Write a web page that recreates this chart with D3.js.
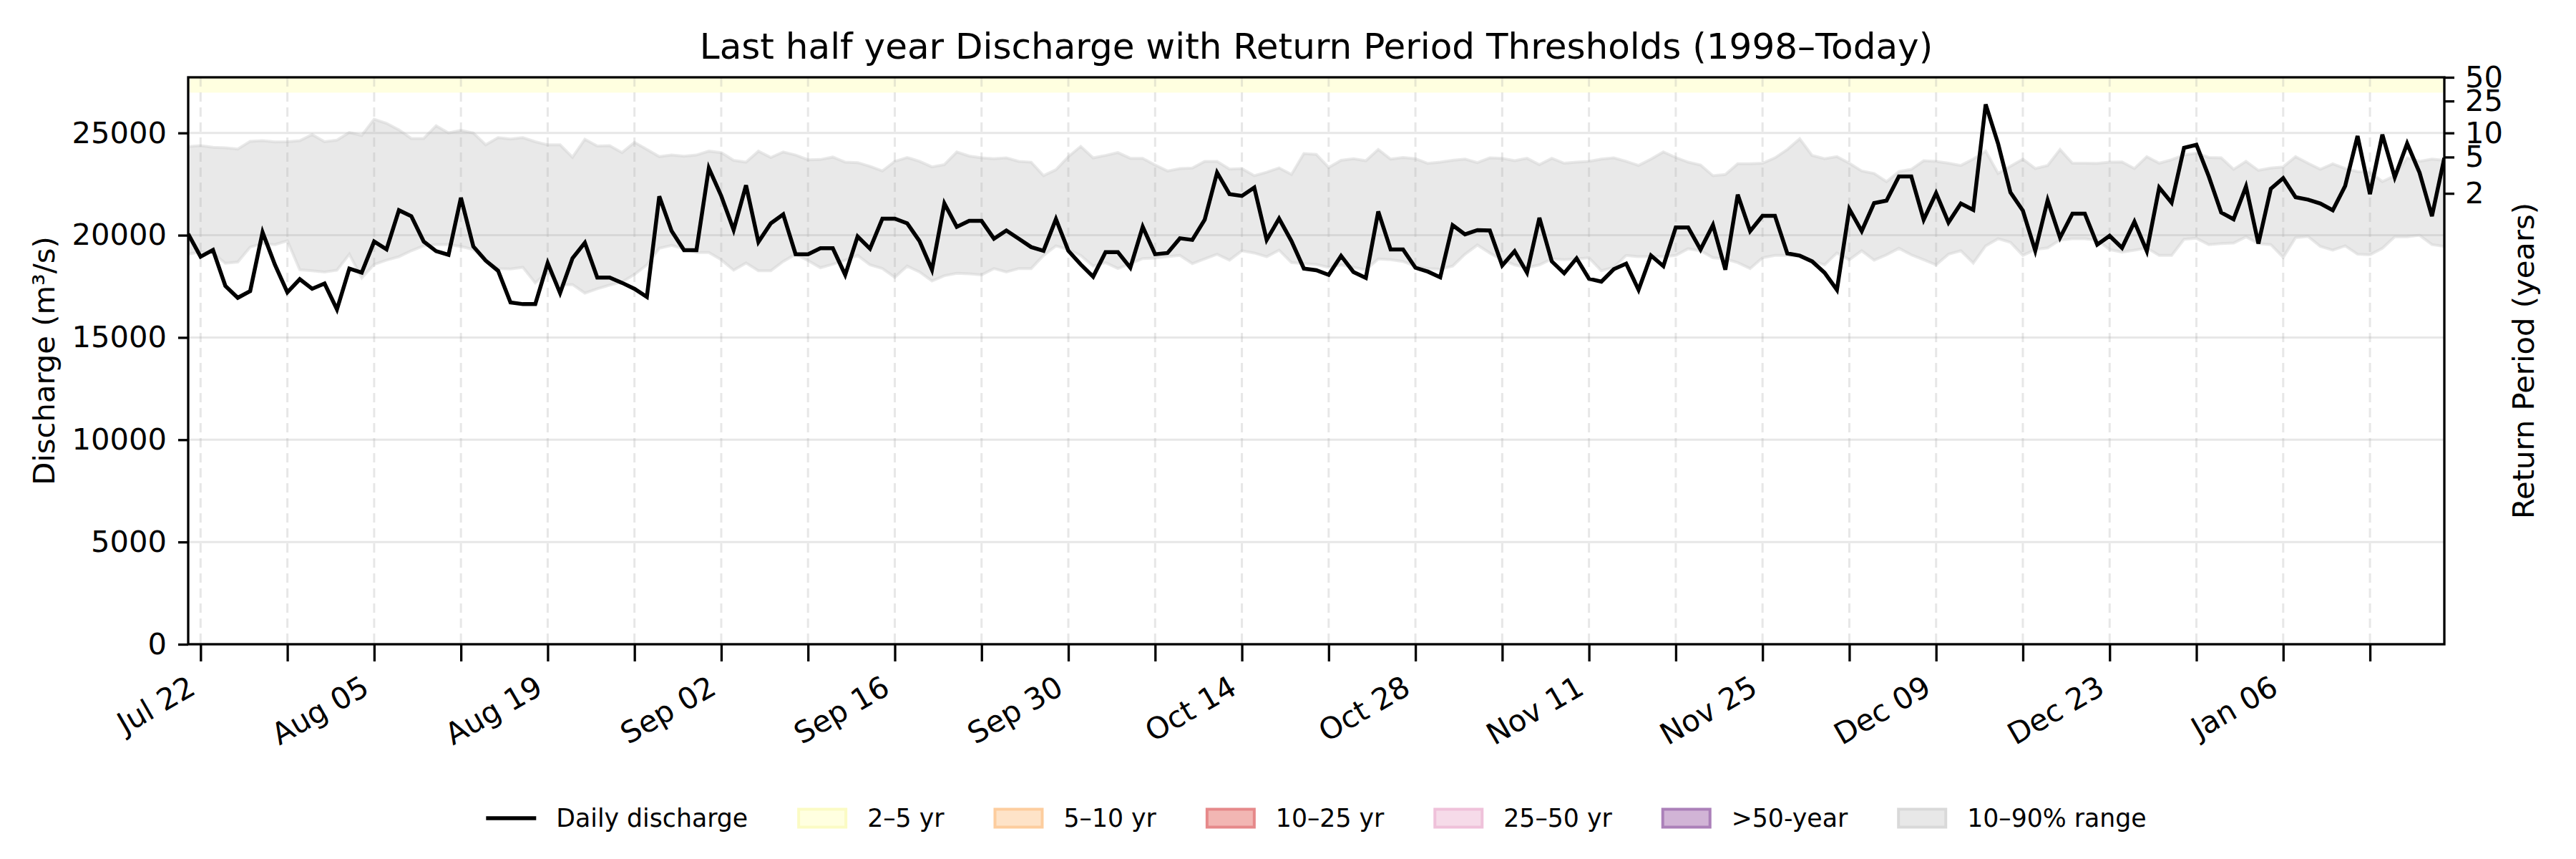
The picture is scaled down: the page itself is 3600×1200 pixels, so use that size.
<!DOCTYPE html>
<html>
<head>
<meta charset="utf-8">
<script src="https://cdn.jsdelivr.net/npm/d3@7"></script>
<style>
  body { margin: 0; background: #ffffff; }
  text { font-family: "DejaVu Sans", sans-serif; fill: #000; }
</style>
</head>
<body>
<div id="discharge_chart"></div>
<script>
// set the size of svg
const width = 3600; const height = 1200;
const margin = {top: 108, right: 184, bottom: 300, left: 263};
const innerWidth = width - margin.left - margin.right;
const innerHeight = height - margin.top - margin.bottom;

// input data, one value per day from Jul 21 2024
const startDate = new Date(Date.UTC(2024, 6, 21));
const dailyDischarge = [
  20060,18950,19280,17520,16940,17270,20140,18550,17210,17850,17380,17640,16370,18370,18170,19690,19310,21220,20930,19690,19220,19040,21830,19450,18760,18260,
  16710,16630,16630,18640,17170,18870,19630,17930,17930,17670,17380,16980,21900,20200,19270,19270,23280,21920,20260,22440,19670,20580,21020,19070,19070,19360,
  19360,18060,19940,19340,20810,20810,20580,19710,18310,21550,20410,20700,20700,19830,20230,19830,19420,19240,20790,19240,18570,17970,19170,19170,18410,20410,
  19070,19130,19850,19770,20760,23060,22010,21920,22330,19770,20810,19710,18370,18290,18060,18990,18200,17910,21160,19300,19300,18410,18220,17940,20490,20040,
  20250,20230,18520,19220,18170,20850,18720,18140,18870,17870,17730,18340,18610,17330,19010,18490,20380,20380,19300,20500,18310,21980,20200,20950,20950,19110,
  19000,18720,18170,17330,21280,20200,21570,21690,22870,22870,20760,22060,20620,21550,21240,26400,24480,22090,21200,19240,21710,19880,21050,21050,19540,19970,
  19380,20660,19220,22330,21590,24270,24420,22870,21110,20780,22380,19590,22270,22790,21860,21740,21550,21220,22410,24850,22010,24920,22830,24480,23060,20930,23780
];
const p90 = [
  24330,24380,24300,24270,24210,24590,24620,24560,24570,24620,24920,24570,24650,25020,24880,25670,25470,25150,24730,24730,25350,25000,25130,25000,24420,24770,
  24700,24770,24570,24420,24420,23810,24690,24360,24380,24040,24540,24190,23840,23920,23860,23920,24110,24040,23660,23570,24110,23800,24070,23920,23690,23700,
  23820,23570,23550,23370,23140,23610,23800,23610,23340,23450,24070,23870,23780,23740,23780,23610,23570,22910,23200,23840,24340,23780,23900,24040,23760,23760,
  23430,23140,23260,23280,23610,23610,23230,23260,22910,23080,23290,22970,23990,23950,23310,23660,23740,23640,24190,23720,23800,23740,23510,23570,23660,23720,
  23550,23780,23760,23640,23760,23450,23760,23520,23570,23610,23720,23780,23610,23410,23720,24070,23800,23570,23430,22910,22970,23490,23490,23520,23780,24190,
  24710,23900,23740,23840,23520,23140,23020,22620,23110,23220,23640,23610,23520,23410,23720,24110,23020,23370,23720,23260,23410,24190,23520,23520,23510,23570,
  23580,23260,23840,23520,23690,23920,24010,23800,23780,23220,23610,23170,23280,23340,23840,23520,23220,23490,23260,23110,23080,22620,22910,23780,23610,23720,23660
];
const p10 = [
  19070,19190,19130,18630,18690,19420,19590,19540,19730,18310,18260,18200,18290,19070,17910,18570,18780,18950,19240,19480,19540,19540,19450,19300,18760,18370,
  18350,18430,17670,18200,17560,17590,17170,17380,17560,17710,18080,18550,19360,19500,19340,19150,19150,18800,18290,18640,18260,18260,18720,19070,18760,18410,
  18580,18780,19010,18550,18370,17940,18490,18200,17760,18020,18140,18110,18060,18370,18200,18370,18370,19010,19480,19300,19010,18490,18660,18370,18610,18860,
  18880,18950,19010,18610,18840,19070,18780,19240,19130,18950,19270,18660,18610,18570,18430,18550,18430,18310,18840,18800,18720,18490,18370,18340,18490,19070,
  19520,19130,18800,18550,18410,18550,18840,18800,18840,18900,18260,18430,19010,18950,18950,18950,19010,19340,19240,18900,18840,18660,18370,18900,19010,19010,
  18960,18760,18550,19130,18800,19240,18780,19040,19360,19040,18800,18550,19070,19240,18640,19480,19830,19650,19010,19300,19380,19770,19830,19830,19770,19300,
  19170,19270,19380,19010,19010,19800,19850,19540,19590,19620,19920,19590,19540,18920,19880,19940,19450,19270,19480,19070,19040,19360,19920,19920,20000,19540,19450
];

// return period ticks on the right axis, placed at their discharge
const returnPeriods = [2, 5, 10, 25, 50];
const returnPeriodDischarge = [22045, 23820, 25000, 26560, 27720];
const yTicks = [0, 5000, 10000, 15000, 20000, 25000];
const yMax = 27720;
// visible 2-5 yr shading at the top of the axes
const band25 = [26970, 27720];

const legendItems = [
  {label: 'Daily discharge', type: 'line', color: '#000000'},
  {label: '2\u20135 yr', type: 'patch', fill: '#ffffe0', edge: '#fbfbc4'},
  {label: '5\u201310 yr', type: 'patch', fill: '#fee3c8', edge: '#fdcd9e'},
  {label: '10\u201325 yr', type: 'patch', fill: '#f2b6b3', edge: '#e6898a'},
  {label: '25\u201350 yr', type: 'patch', fill: '#f6dbe9', edge: '#efc1da'},
  {label: '>50-year', type: 'patch', fill: '#d1b4d6', edge: '#ab80b9'},
  {label: '10\u201390% range', type: 'patch', fill: '#e8e8e8', edge: '#d9d9d9'}
];

const data = dailyDischarge.map((v, i) => ({
  date: d3.utcDay.offset(startDate, i), value: v, lo: p10[i], hi: p90[i]
}));

let svg = d3.select('#discharge_chart')
  .append('svg')
    .attr('width', width)
    .attr('height', height)
    .style('display', 'block');
svg.append('rect').attr('width', width).attr('height', height).attr('fill', '#ffffff');

let plotG = svg.append('g')
  .attr('transform', `translate(${margin.left}, ${margin.top})`);

const x = d3.scaleUtc()
  .domain([startDate, data[data.length - 1].date])
  .range([0, innerWidth]);
const y = d3.scaleLinear()
  .domain([0, yMax])
  .range([innerHeight, 0]);

plotG.append('defs').append('clipPath').attr('id', 'plot-clip')
  .append('rect').attr('width', innerWidth).attr('height', innerHeight);
const clipG = plotG.append('g').attr('clip-path', 'url(#plot-clip)');

// 2-5 yr shading
clipG.append('rect')
  .attr('x', 0).attr('width', innerWidth)
  .attr('y', y(band25[1])).attr('height', y(band25[0]) - y(band25[1]))
  .attr('fill', '#ffffe0');

// 10-90% range
clipG.append('path')
  .datum(data)
  .attr('fill', '#d3d3d3').attr('fill-opacity', 0.5)
  .attr('stroke', '#d3d3d3').attr('stroke-opacity', 0.5).attr('stroke-width', 4)
  .attr('d', d3.area().x(d => x(d.date)).y0(d => y(d.lo)).y1(d => y(d.hi)));

// grid
const weekTicks = d3.utcMonday.range(startDate, d3.utcDay.offset(x.domain()[1], 1));
clipG.append('g').selectAll('line').data(yTicks).join('line')
  .attr('x1', 0).attr('x2', innerWidth)
  .attr('y1', d => y(d)).attr('y2', d => y(d))
  .attr('stroke', '#b0b0b0').attr('stroke-opacity', 0.3).attr('stroke-width', 3);
clipG.append('g').selectAll('line').data(weekTicks).join('line')
  .attr('x1', d => x(d)).attr('x2', d => x(d))
  .attr('y1', 0).attr('y2', innerHeight)
  .attr('stroke', '#b0b0b0').attr('stroke-opacity', 0.3).attr('stroke-width', 3)
  .attr('stroke-dasharray', '13,8');

// daily discharge line
clipG.append('path')
  .datum(data)
  .attr('fill', 'none')
  .attr('stroke', '#000000')
  .attr('stroke-width', 5.5)
  .attr('stroke-linejoin', 'miter')
  .attr('d', d3.line().x(d => x(d.date)).y(d => y(d.value)));

// left axis
const leftAxis = plotG.append('g')
  .call(d3.axisLeft(y).tickValues(yTicks).tickSize(14).tickPadding(16).tickFormat(d3.format('d')));
leftAxis.select('.domain').remove();
leftAxis.selectAll('line').attr('stroke-width', 3.3);
leftAxis.selectAll('text').attr('font-size', 41.7).style('font-family', '"DejaVu Sans"');

// right axis with return periods
const rightAxis = plotG.append('g')
  .attr('transform', `translate(${innerWidth}, 0)`)
  .call(d3.axisRight(y).tickValues(returnPeriodDischarge).tickSize(14).tickPadding(15)
    .tickFormat((d, i) => returnPeriods[i]));
rightAxis.select('.domain').remove();
rightAxis.selectAll('line').attr('stroke-width', 3.3);
rightAxis.selectAll('text').attr('font-size', 41.7).style('font-family', '"DejaVu Sans"');

// bottom axis, weekly ticks and every second one labelled
const bottomAxis = plotG.append('g')
  .attr('transform', `translate(0, ${innerHeight})`)
  .call(d3.axisBottom(x).tickValues(weekTicks).tickSize(24)
    .tickFormat((d, i) => i % 2 === 0 ? d3.utcFormat('%b %d')(d) : ''));
bottomAxis.select('.domain').remove();
bottomAxis.selectAll('line').attr('stroke-width', 3.3);
bottomAxis.selectAll('.tick text').filter(function() { return this.textContent === ''; }).remove();
bottomAxis.selectAll('.tick text')
  .attr('font-size', 41.7)
  .style('font-family', '"DejaVu Sans"')
  .attr('text-anchor', 'end')
  .attr('dy', null)
  .attr('x', -5)
  .attr('y', 68)
  .attr('transform', 'rotate(-30, -5, 68)');

// spines
plotG.append('rect')
  .attr('width', innerWidth).attr('height', innerHeight)
  .attr('fill', 'none').attr('stroke', '#000').attr('stroke-width', 3.3);

// title and axis labels
svg.append('text')
  .attr('x', margin.left + innerWidth / 2).attr('y', 82)
  .attr('text-anchor', 'middle').attr('font-size', 50)
  .text('Last half year Discharge with Return Period Thresholds (1998\u2013Today)');
svg.append('text')
  .attr('transform', `translate(76, ${margin.top + innerHeight / 2}) rotate(-90)`)
  .attr('text-anchor', 'middle').attr('font-size', 41.7)
  .text('Discharge (m\u00b3/s)');
svg.append('text')
  .attr('transform', `translate(3541, ${margin.top + innerHeight / 2}) rotate(-90)`)
  .attr('text-anchor', 'middle').attr('font-size', 41.7)
  .text('Return Period (years)');

// legend, one row centred under the plot
const legendFont = 34.7;
const handleLen = 70;
const legendY = 1143;
let legendG = svg.append('g');
let items = legendG.selectAll('g').data(legendItems).join('g');
items.append('text')
  .attr('x', handleLen + 28).attr('y', legendY).attr('dy', '0.35em')
  .attr('font-size', legendFont)
  .text(d => d.label);
let offset = 0;
items.each(function(d) {
  const w = d3.select(this).select('text').node().getComputedTextLength();
  d.offset = offset;
  offset += handleLen + 28 + w + 69;
});
const legendWidth = offset - 69;
legendG.attr('transform', `translate(${margin.left + innerWidth / 2 - legendWidth / 2}, 0)`);
items.attr('transform', d => `translate(${d.offset}, 0)`);
items.filter(d => d.type === 'line').append('line')
  .attr('x1', 0).attr('x2', handleLen)
  .attr('y1', legendY).attr('y2', legendY)
  .attr('stroke', d => d.color).attr('stroke-width', 5.5);
items.filter(d => d.type === 'patch').append('rect')
  .attr('x', 2).attr('width', handleLen - 4)
  .attr('y', legendY - 12.5).attr('height', 25)
  .attr('fill', d => d.fill)
  .attr('stroke', d => d.edge).attr('stroke-width', 4);
</script>
</body>
</html>
